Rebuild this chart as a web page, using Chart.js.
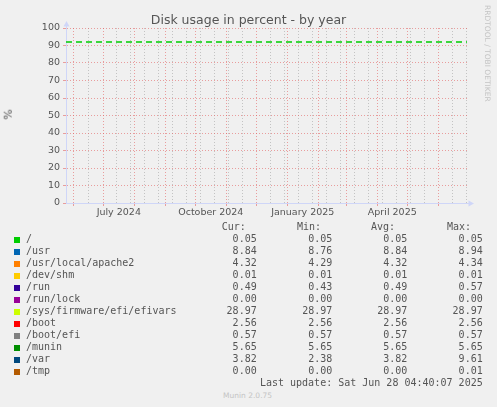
<!DOCTYPE html>
<html>
<head>
<meta charset="utf-8">
<script src="https://cdn.jsdelivr.net/npm/chart.js@4.4.1/dist/chart.umd.min.js"></script>
<style>
  html, body { margin: 0; padding: 0; background: #f0f0f0; width: 497px; height: 407px; overflow: hidden; }
  #wrap { position: absolute; left: 0; top: 0; width: 497px; height: 230px; }
  .txt { position: absolute; white-space: pre; font-family: "DejaVu Sans", sans-serif; color: #555; }
  .mono { position: absolute; white-space: pre; font-family: "DejaVu Sans Mono", monospace; font-size: 10px; line-height: 12px; color: #555; }
  .sw { position: absolute; width: 6px; height: 6px; }
  #title { left: 0; width: 497px; top: 12px; text-align: center; font-size: 12.5px; line-height: 15px; }
  #ylab { left: 3px; top: 108px; font-size: 11px; line-height: 13px; transform: rotate(-90deg); }
  #vendor { left: 483px; top: 5px; font-size: 7.5px; line-height: 9px; color: #c4c4c4; writing-mode: vertical-rl; }
  #munin { left: 223px; top: 391px; font-size: 7.5px; line-height: 9px; color: #c4c4c4; }
</style>
</head>
<body>
<div id="wrap"><canvas id="diskChart"></canvas></div>
<div class="txt" id="title">Disk usage in percent - by year</div>
<div class="txt" id="ylab">%</div>
<div class="txt" id="vendor">RRDTOOL / TOBI OETIKER</div>
<div class="txt" id="munin">Munin 2.0.75</div>
<div id="legend"></div>
<script>
const DAY = 86400000;
const rangeStart = Date.UTC(2024, 4, 24, 17);
const rangeEnd = rangeStart + 401 * DAY;
const warningPercent = 92;

const seriesNames = ['/', '/usr', '/usr/local/apache2', '/dev/shm', '/run', '/run/lock',
  '/sys/firmware/efi/efivars', '/boot', '/boot/efi', '/munin', '/var', '/tmp'];
const seriesColors = ['#00CC00', '#0066B3', '#FF8000', '#FFCC00', '#330099', '#990099',
  '#CCFF00', '#FF0000', '#808080', '#008F00', '#00487D', '#B35A00'];
const curValues = [0.05, 8.84, 4.32, 0.01, 0.49, 0.00, 28.97, 2.56, 0.57, 5.65, 3.82, 0.00];
const minValues = [0.05, 8.76, 4.29, 0.01, 0.43, 0.00, 28.97, 2.56, 0.57, 5.65, 2.38, 0.00];
const avgValues = [0.05, 8.84, 4.32, 0.01, 0.49, 0.00, 28.97, 2.56, 0.57, 5.65, 3.82, 0.00];
const maxValues = [0.05, 8.94, 4.34, 0.01, 0.57, 0.00, 28.97, 2.56, 0.57, 5.65, 9.61, 0.01];
const statHeaders = ['Cur:', 'Min:', 'Avg:', 'Max:'];
const lastUpdate = 'Last update: Sat Jun 28 04:40:07 2025';

const quarterLabels = ['July 2024', 'October 2024', 'January 2025', 'April 2025'];
const quarterMonths = [[2024, 6], [2024, 9], [2025, 0], [2025, 3]];

// x ticks: month starts (red grid), every second week (grey grid), mid-month labels
const xTickKinds = new Map();
for (let y = 2024, m = 5; Date.UTC(y, m, 1) < rangeEnd; m++) {
  if (m > 11) { m = 0; y++; }
  xTickKinds.set(Date.UTC(y, m, 1), 'major');
}
const majors = [...xTickKinds.keys()];
for (let t = Date.UTC(2024, 5, 16); t < rangeEnd; t += 14 * DAY) {
  if (majors.some(v => Math.abs(v - t) < 1.5 * DAY)) continue;
  xTickKinds.set(t, 'minor');
}
const labelAt = new Map();
quarterMonths.forEach(([y, m], i) => {
  const mid = (Date.UTC(y, m, 1) + Date.UTC(y, m + 1, 1)) / 2;
  xTickKinds.set(mid, 'label');
  labelAt.set(mid, quarterLabels[i]);
});
const xTickValues = [...xTickKinds.keys()].sort((a, b) => a - b);

const MGRID = 'rgba(225, 90, 90, 0.55)';
const GRID = 'rgba(140, 140, 140, 0.45)';
const AXIS = '#CFD6F8';

const datasets = seriesNames.map((name, i) => ({
  label: name,
  data: [],
  borderColor: seriesColors[i],
  borderWidth: 1,
  pointRadius: 0
}));
datasets.push({
  label: 'warning',
  data: [{ x: rangeStart, y: warningPercent }, { x: rangeEnd, y: warningPercent }],
  borderColor: '#00CC00',
  borderWidth: 1.5,
  borderDash: [6, 4],
  pointRadius: 0
});

const arrows = {
  id: 'arrows',
  afterDraw(chart) {
    const { ctx, chartArea: a } = chart;
    ctx.save();
    ctx.fillStyle = AXIS;
    ctx.strokeStyle = AXIS;
    ctx.lineWidth = 1;
    const x0 = Math.round(a.left) + 0.5, y0 = Math.round(a.bottom) + 0.5;
    ctx.beginPath();
    ctx.moveTo(x0, a.top); ctx.lineTo(x0, a.top - 3);
    ctx.moveTo(a.right, y0); ctx.lineTo(a.right + 3, y0);
    ctx.stroke();
    ctx.beginPath();
    ctx.moveTo(x0, a.top - 7); ctx.lineTo(x0 - 3, a.top - 1.5); ctx.lineTo(x0 + 3, a.top - 1.5);
    ctx.closePath(); ctx.fill();
    ctx.beginPath();
    ctx.moveTo(a.right + 7, y0); ctx.lineTo(a.right + 1.5, y0 - 3); ctx.lineTo(a.right + 1.5, y0 + 3);
    ctx.closePath(); ctx.fill();
    ctx.restore();
  }
};

const tickFont = { family: 'DejaVu Sans', size: 9.5 };
const kindOf = c => c.tick ? xTickKinds.get(c.tick.value) : null;

new Chart(document.getElementById('diskChart'), {
  type: 'line',
  data: { datasets },
  options: {
    responsive: true,
    maintainAspectRatio: false,
    animation: false,
    devicePixelRatio: 1,
    layout: { padding: { left: 0, top: 28, right: 30, bottom: 0 } },
    plugins: { legend: { display: false }, tooltip: { enabled: false } },
    scales: {
      x: {
        type: 'linear',
        min: rangeStart,
        max: rangeEnd,
        afterBuildTicks: s => { s.ticks = xTickValues.map(v => ({ value: v })); },
        afterFit: s => { s.height = 27; s.paddingLeft = 0; s.paddingRight = 0; },
        ticks: {
          autoSkip: false, maxRotation: 0, padding: 1, color: '#555', font: tickFont,
          callback: v => labelAt.get(v) || ''
        },
        grid: {
          color: c => kindOf(c) === 'major' ? MGRID : kindOf(c) === 'minor' ? GRID : 'rgba(0,0,0,0)',
          tickColor: c => kindOf(c) === 'major' ? MGRID : 'rgba(0,0,0,0)',
          tickLength: 3,
          lineWidth: 1
        },
        border: { color: AXIS, width: 1, dash: [1, 2] }
      },
      y: {
        min: 0,
        max: 100,
        afterFit: s => { s.width = 66; s.paddingTop = 0; s.paddingBottom = 0; },
        ticks: {
          stepSize: 5, padding: 3, color: '#555', font: tickFont,
          callback: v => v % 10 === 0 ? String(v) : ''
        },
        grid: {
          color: c => c.tick && c.tick.value % 10 === 0 ? MGRID : GRID,
          tickColor: c => c.tick && c.tick.value % 10 === 0 ? MGRID : 'rgba(0,0,0,0)',
          tickLength: 3,
          lineWidth: 1
        },
        border: { color: AXIS, width: 1, dash: [1, 2] }
      }
    }
  },
  plugins: [arrows]
});

// legend table under the graph
const legend = document.getElementById('legend');
const headerLeft = [221.7, 297, 371, 447];
const valueRight = [256.7, 332.3, 407.3, 482.7];
function put(cls, text, css) {
  const d = document.createElement('div');
  d.className = cls;
  d.textContent = text;
  Object.assign(d.style, css);
  legend.appendChild(d);
  return d;
}
statHeaders.forEach((h, j) => put('mono', h, { left: headerLeft[j] + 'px', top: '221px' }));
const columns = [curValues, minValues, avgValues, maxValues];
seriesNames.forEach((name, i) => {
  const top = 233 + i * 12;
  put('sw', '', { left: '14px', top: (top + 4) + 'px', background: seriesColors[i] });
  put('mono', name, { left: '26px', top: top + 'px' });
  columns.forEach((col, j) => {
    put('mono', col[i].toFixed(2), { right: (497 - valueRight[j]) + 'px', top: top + 'px', textAlign: 'right' });
  });
});
put('mono', lastUpdate, { right: (497 - 482.7) + 'px', top: (233 + 12 * 12) + 'px' });
</script>
</body>
</html>
